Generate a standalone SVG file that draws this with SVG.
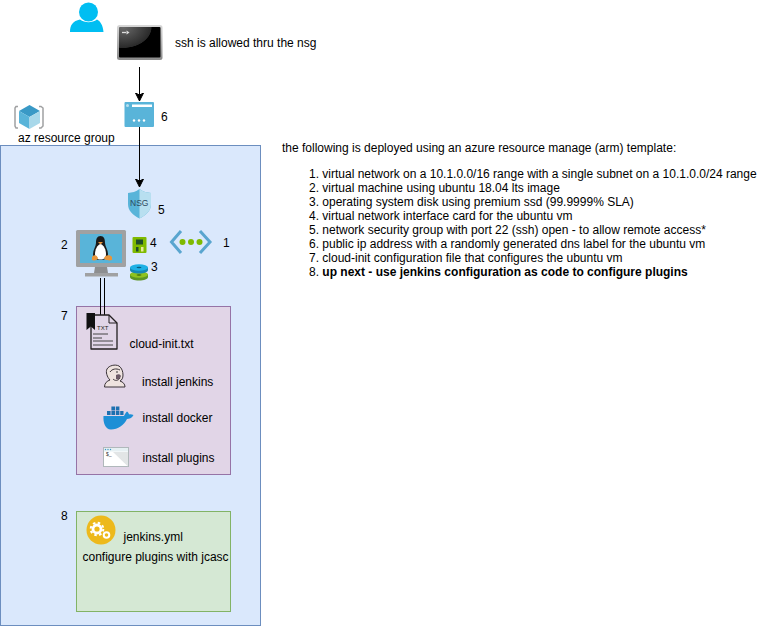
<svg xmlns="http://www.w3.org/2000/svg" width="771" height="626" viewBox="0 0 771 626">
<style>
text{font-family:"Liberation Sans",Arial,sans-serif;font-size:12px;fill:#000}
.b{font-weight:bold}
.c{fill:none;stroke:#000;stroke-width:1}
</style>
<defs>
<marker id="arrow" markerUnits="userSpaceOnUse" markerWidth="9" markerHeight="10" refX="8" refY="4.5" orient="auto"><path d="M0,0.5L8,4.5L0,8.5L2,4.5Z" fill="#000" stroke="#000"/></marker>
<radialGradient id="term" cx="0.1" cy="0" r="0.9"><stop offset="0" stop-color="#6a6a6a"/><stop offset=".75" stop-color="#2a2a2a"/><stop offset=".77" stop-color="#000"/><stop offset="1" stop-color="#000"/></radialGradient>
<linearGradient id="termframe" x1="0" y1="0" x2="0" y2="1"><stop offset="0" stop-color="#d8d8d8"/><stop offset="1" stop-color="#8a8a8a"/></linearGradient>
</defs>
<rect width="771" height="626" fill="#fff"/>
<g id="resource-group-box"><rect x="0.5" y="145.5" width="260" height="480" fill="#dae8fc" stroke="#6c8ebf"/></g>
<g id="cloud-init-box"><rect x="76.5" y="306.5" width="154" height="168" fill="#e1d5e7" stroke="#9673a6"/></g>
<g id="jenkins-yml-box"><rect x="76.5" y="511.5" width="154" height="100" fill="#d5e8d4" stroke="#82b366"/></g>
<g id="connectors">
<path class="c" d="M139.5,67V101" marker-end="url(#arrow)"/>
<path class="c" d="M139.5,127V187" marker-end="url(#arrow)"/>
<path class="c" d="M100.5,278V316M104.5,278V316"/>
</g>
<g id="user"><circle cx="88.500" cy="12" r="9.500" fill="#00bef2"/><path d="M70,32C70,25 73,21 80,19.500C85,23 92,23 97,19.500C100,21 103,25 103.500,32Z" fill="#00bef2"/></g>
<g id="terminal"><rect x="117" y="25" width="45.500" height="35" rx="2.500" fill="url(#termframe)"/><rect x="119" y="27" width="41.500" height="30.500" rx="1" fill="url(#term)"/><path d="M122,32.500H126" fill="none" stroke="#ddd" stroke-width="1.300"/><path d="M126.500,30.500L129.500,32.500L126.500,34.500Z" fill="#ddd"/><text x="175" y="47">ssh is allowed thru the nsg</text></g>
<g id="public-ip"><rect x="124.500" y="102" width="29.500" height="25" rx="1" fill="#59b4d9"/><rect x="132" y="104.500" width="20" height="2.500" fill="#fff"/><circle cx="127.500" cy="105.500" r="1.500" fill="#b8e0ef"/><circle cx="134" cy="120.500" r="1.200" fill="#fff"/><circle cx="139" cy="120.500" r="1.200" fill="#fff"/><circle cx="144" cy="120.500" r="1.200" fill="#fff"/><text x="161" y="121">6</text></g>
<g id="resource-group"><path d="M18,106.500H16L15,108V126L16,128H18M39,106.500H41L43,108V126L41,128H39" fill="none" stroke="#a0a1a2" stroke-width="1.500"/><path d="M29.500,105L40,111L29.500,117L19,111Z" fill="#3999c6"/><path d="M19,111L29.500,117V129L19,123Z" fill="#59b4d9"/><path d="M40,111L29.500,117V129L40,123Z" fill="#a8d8ea"/><text x="18" y="142">az resource group</text></g>
<g id="nsg"><path d="M139.500,189C143,192 147,192.500 151,193V204C151,211 146,215 139.500,218.500C133,215 128,211 128,204V193C132,192.500 136,192 139.500,189Z" fill="#59b4d9"/><path d="M139.500,189C143,192 147,192.500 151,193V204C151,211 146,215 139.500,218.500Z" fill="#b8dff0"/><text x="130" y="206" style="font-size:8.500px;fill:#2d4a5e">NSG</text><text x="158" y="214">5</text></g>
<g id="vm">
<rect x="76" y="230" width="50" height="37" rx="1.500" fill="#a0a1a2"/><rect x="80" y="234" width="42" height="29" fill="#59b4d9"/>
<path d="M95,267H107L108,273H94Z" fill="#8d8e8f"/><rect x="85" y="273" width="33" height="3.500" fill="#a0a1a2"/>
<path d="M100.500,236C104,236 105,239 105,243C105,246 108,250 108,254C108,258 105,260 100.500,260C96,260 93,258 93,254C93,250 96,246 96,243C96,239 97,236 100.500,236Z" fill="#1a1a1a"/>
<path d="M100.500,244C104,245 106,250 106,254C106,258 104,259.500 100.500,259.500C97,259.500 95,258 95,254C95,250 97,245 100.500,244Z" fill="#fff"/>
<path d="M98,242H103L100.500,244.500Z" fill="#e8953a"/>
<path d="M92,257C94,254 97,255 98,258C98,260 94,261 92,260ZM112,257C110,254 105,255 104,258C104,260 109,261 112,260Z" fill="#e8953a"/>
<text x="61" y="249">2</text></g>
<g id="nic"><rect x="132.500" y="237" width="14" height="16" rx="1" fill="#7fba00"/><rect x="136" y="239.500" width="7" height="5" fill="#1f4d2b"/><rect x="136" y="247" width="2.500" height="4.500" fill="#1f4d2b"/><rect x="141" y="247" width="2.500" height="4.500" fill="#e8e8a0"/><text x="150" y="247">4</text></g>
<g id="disk"><path d="M130,274V277C130,279 134,280.500 139,280.500C144,280.500 148,279 148,277V274Z" fill="#5e9624"/><ellipse cx="139" cy="274.500" rx="9" ry="3.200" fill="#8fc31f"/><ellipse cx="139" cy="275" rx="2.500" ry="0.800" fill="#3f6b10"/><path d="M130,267.500V270C130,272 134,273.500 139,273.500C144,273.500 148,272 148,270V267.500Z" fill="#1788b5"/><ellipse cx="139" cy="267.500" rx="9" ry="3.300" fill="#1db0e5"/><ellipse cx="139" cy="267.500" rx="2.500" ry="0.800" fill="#0c5b7c"/><text x="151" y="271">3</text></g>
<g id="vnet"><path d="M181,231L171.500,242L181,253M200,231L210,242L200,253" fill="none" stroke="#59a5cf" stroke-width="3"/><circle cx="182.500" cy="242" r="3" fill="#7fba00"/><circle cx="191" cy="242" r="3" fill="#7fba00"/><circle cx="199.500" cy="242" r="3" fill="#7fba00"/><text x="223" y="247">1</text></g>
<g id="cloud-init"><text x="61" y="320">7</text>
<path d="M91,315H109L117,323V349H91Z" fill="#e1d5e7" stroke="#231f20" stroke-width="1.300" stroke-linejoin="round"/><path d="M109,315V323H117" fill="none" stroke="#231f20"/><path d="M86.500,313H95V330L90.800,326.500L86.500,330Z" fill="#111"/>
<text x="97" y="330" style="font-size:6px;fill:#231f20">TXT</text><path d="M93,334H108M93,338H102M93,341H113M93,345H113" stroke="#444" fill="none"/>
<text x="129.500" y="348">cloud-init.txt</text></g>
<g id="jenkins">
<path d="M104.500,387C104.500,383 107,381 110,380C107,377 105.500,372 107,369C109,365.500 115,364 119,366C122,368 123,372 123,375C123,378 122,380 120,381C123,382 125,384 125,387Z" fill="#eee3df" stroke="#3a3338" stroke-width="1"/>
<path d="M110,372C112,369 116,368 120,370M113,379C115,381 118,381 120,378" fill="none" stroke="#3a3338"/><path d="M116,375C118,374 120,374 121,376C120,379 118,380 116,379Z" fill="#6b5a66"/><circle cx="117" cy="372" r="0.800" fill="#222"/>
<text x="142" y="386">install jenkins</text></g>
<g id="docker"><path d="M103.500,416H124C125,414 126,412 127,411.500C128.500,412.500 129,414 129,414.500C130.500,414 132,414.500 133.500,415C132,418 129,419 127,419C124,425 118,429.500 111,429.500C105,429.500 103,422 103.500,416Z" fill="#1d8fd6"/>
<path d="M107,411h3.600v4h-3.600zM111.400,411h3.600v4h-3.600zM115.800,411h3.600v4h-3.600zM120.200,411h3.300v4h-3.300zM111.400,406.500h3.600v4h-3.600zM115.800,406.500h3.600v4h-3.600z" fill="#1d70b0"/><text x="142.500" y="422">install docker</text></g>
<g id="plugins"><rect x="103.500" y="447.500" width="25" height="19" fill="#fff" stroke="#b0b8bb"/><path d="M113,452H128V466.500Z" fill="#e2e5e6"/><rect x="104" y="448" width="24" height="3.500" fill="#e6f0f3"/><circle cx="105.500" cy="449.500" r="0.700" fill="#3999c6"/><circle cx="108" cy="449.500" r="0.700" fill="#3999c6"/><circle cx="110.500" cy="449.500" r="0.700" fill="#3999c6"/><text x="106" y="456" style="font-size:5px;fill:#333">$_</text><text x="142.500" y="462">install plugins</text></g>
<g id="jenkins-yml"><text x="61" y="520">8</text><circle cx="101" cy="530" r="14.500" fill="#edb91b"/><circle cx="97" cy="529" r="6.300" fill="none" stroke="#fff" stroke-width="2" stroke-dasharray="2.500 2.450"/><circle cx="97" cy="529" r="4" fill="none" stroke="#fff" stroke-width="2.800"/><circle cx="106.500" cy="535" r="2.800" fill="none" stroke="#fff" stroke-width="2"/><text x="123.500" y="541">jenkins.yml</text><text x="82.500" y="561">configure plugins with jcasc</text></g>
<g id="description">
<text x="282" y="152">the following is deployed using an azure resource manage (arm) template:</text>
<text x="309" y="178">1. virtual network on a 10.1.0.0/16 range with a single subnet on a 10.1.0.0/24 range</text>
<text x="309" y="192">2. virtual machine using ubuntu 18.04 lts image</text>
<text x="309" y="206">3. operating system disk using premium ssd (99.9999% SLA)</text>
<text x="309" y="220">4. virtual network interface card for the ubuntu vm</text>
<text x="309" y="234">5. network security group with port 22 (ssh) open - to allow remote access*</text>
<text x="309" y="248">6. public ip address with a randomly generated dns label for the ubuntu vm</text>
<text x="309" y="262">7. cloud-init configuration file that configures the ubuntu vm</text>
<text x="309" y="276">8. <tspan class="b">up next - use jenkins configuration as code to configure plugins</tspan></text>
</g>
</svg>
